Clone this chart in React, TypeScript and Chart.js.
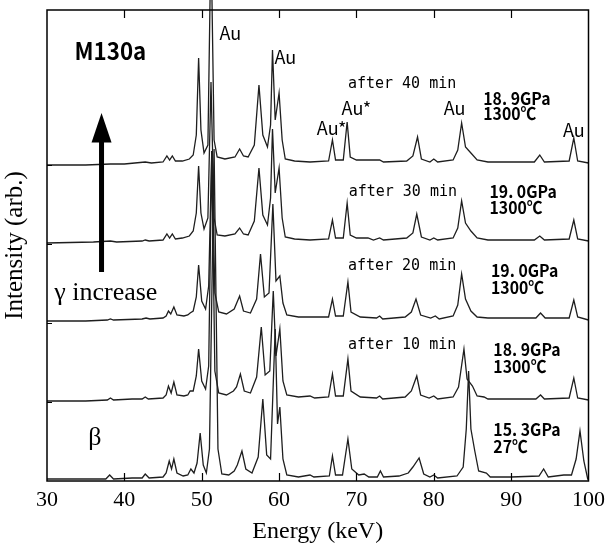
import React, { useEffect, useRef } from "react";
import { Chart, registerables } from "chart.js";

Chart.register(...registerables);

// ---- axes ----
const X_MIN = 30;
const X_MAX = 100;
const X_TICKS = [30, 40, 50, 60, 70, 80, 90, 100];
const Y_MIN = 0;
const Y_MAX = 471;
const Y_TICKS = [79, 158, 237, 316];

// baseline offset of each stacked trace (bottom -> top)
const OFFSETS = [2, 80, 160, 238, 316];

// ---- spectra: [energy keV, intensity above own baseline] ----
const T0: number[][] = [
  [30, 0], [34, 0], [37.6, 0], [38.1, 4], [38.6, 0], [41, 1], [42.3, 1], [42.7, 5], [43.2, 1],
  [45, 2], [45.4, 6], [45.8, 18], [46.1, 10], [46.4, 20], [46.8, 6], [47.6, 3], [48.2, 4],
  [48.6, 10], [49.0, 6], [49.4, 16], [49.8, 46], [50.2, 14], [50.6, 6], [51.0, 30], [51.6, 330],
  [52.1, 30], [52.6, 5], [53.5, 4], [54.2, 8], [54.6, 14], [55.2, 28], [55.7, 10], [56.5, 6],
  [57.3, 22], [57.9, 80], [58.4, 24], [58.9, 20], [59.5, 150], [59.8, 55], [60.1, 72], [60.5, 20],
  [61, 4], [62.5, 2], [64, 4], [64.5, 2], [66.5, 3], [66.9, 23], [67.3, 4], [68.2, 4], [68.9, 40],
  [69.4, 10], [70.3, 4], [71, 5], [71.6, 2], [72.7, 2], [73.1, 8], [73.5, 2], [75.5, 3], [76.7, 6],
  [77.3, 12], [78.1, 21], [78.7, 5], [79.5, 2], [80, 4], [80.5, 1], [83, 3], [83.8, 12], [84.2, 50],
  [84.5, 108], [84.8, 50], [85.3, 28], [85.8, 8], [86.8, 6], [87.3, 2], [90, 2], [93.6, 3],
  [94.2, 10], [94.8, 2], [96.8, 4], [97.8, 4], [98.4, 20], [98.9, 48], [99.4, 18], [99.9, 0], [100, 0],
];

const T10: number[][] = [
  [30, 0], [35, 0], [37.8, 1], [38.2, 3], [38.6, 1], [41, 2], [42.3, 2], [42.7, 4], [43.1, 2],
  [45, 3], [45.4, 6], [45.7, 15], [46.05, 8], [46.4, 19], [46.8, 6], [47.7, 5], [48.2, 6],
  [48.5, 10], [48.9, 10], [49.3, 25], [49.6, 52], [50.0, 20], [50.5, 12], [50.9, 35], [51.3, 250],
  [51.7, 30], [52.2, 8], [53.2, 6], [54.1, 10], [54.5, 14], [55.0, 27], [55.5, 10], [56.3, 8],
  [57.1, 24], [57.7, 74], [58.2, 26], [58.8, 30], [59.25, 110], [59.6, 45], [60.1, 72], [60.5, 20],
  [61, 6], [62.5, 4], [64, 5], [64.6, 3], [66.4, 4], [66.9, 27], [67.3, 5], [68.3, 5], [68.9, 42],
  [69.3, 10], [70.5, 4], [72.6, 3], [73, 5], [73.4, 2], [76.3, 4], [77.1, 10], [77.8, 25],
  [78.3, 6], [79.4, 3], [80, 5], [80.5, 2], [82.5, 4], [83.2, 14], [83.9, 52], [84.3, 22],
  [85, 15], [85.6, 5], [86.5, 4], [87, 2], [93.2, 2], [93.8, 6], [94.3, 2], [97.5, 3], [98.1, 23],
  [98.6, 3], [100, 1],
];

const T20: number[][] = [
  [30, 0], [35, 0], [37.8, 1], [38.2, 2], [38.6, 1], [42.3, 2], [42.8, 3], [43.3, 2], [45, 3],
  [45.4, 5], [45.7, 10], [46.0, 7], [46.4, 14], [46.8, 6], [47.7, 5], [48.2, 6], [48.5, 8],
  [48.9, 10], [49.3, 24], [49.6, 56], [50.0, 20], [50.5, 12], [50.9, 35], [51.3, 170], [51.7, 28],
  [52.2, 9], [53.2, 7], [54.2, 12], [54.9, 25], [55.4, 10], [56.3, 8], [57.1, 22], [57.6, 67],
  [58.1, 24], [58.7, 28], [59.2, 117], [59.6, 40], [60.1, 45], [60.5, 18], [61, 6], [62.5, 4],
  [64, 4], [66.4, 4], [66.9, 22], [67.3, 5], [68.3, 5], [68.9, 39], [69.3, 9], [70.5, 4],
  [72.6, 3], [73, 5], [73.4, 2], [76.3, 4], [77.1, 9], [77.7, 22], [78.3, 6], [79.6, 3],
  [80.2, 5], [80.7, 2], [82.5, 5], [83.1, 16], [83.6, 47], [84.1, 22], [84.8, 10], [85.6, 4],
  [87, 3], [93.2, 3], [93.8, 8], [94.4, 3], [97.5, 3], [98.1, 21], [98.6, 4], [100, 1],
];

const T30: number[][] = [
  [30, 0], [36, 1], [38.2, 2], [39, 1], [42.3, 2], [42.7, 3], [43.2, 2], [45, 3], [45.5, 9],
  [45.85, 5], [46.2, 9], [46.6, 4], [47.5, 5], [48.4, 7], [48.9, 12], [49.3, 30], [49.6, 77],
  [49.9, 30], [50.3, 14], [50.8, 25], [51.2, 161], [51.6, 25], [52, 8], [53, 7], [54.3, 9],
  [54.9, 15], [55.4, 9], [56, 8], [56.8, 22], [57.4, 75], [57.9, 28], [58.5, 18], [58.9, 45],
  [59.15, 114], [59.5, 50], [60.0, 75], [60.4, 25], [60.8, 6], [62, 4], [64, 3], [66.4, 4],
  [66.9, 23], [67.3, 5], [68.3, 5], [68.8, 40], [69.2, 8], [70, 5], [71.5, 5], [72.2, 3], [73, 5],
  [73.5, 3], [76.5, 5], [77.3, 10], [77.8, 29], [78.4, 6], [79.5, 3], [80, 5], [80.5, 3],
  [82.5, 5], [83.1, 15], [83.6, 42], [84.1, 20], [84.8, 12], [85.6, 5], [87, 3], [93, 3],
  [93.7, 7], [94.3, 3], [97.5, 4], [98.1, 23], [98.6, 4], [100, 2],
];

const T40: number[][] = [
  [30, 0], [35, 0], [38.2, 1], [40, 1], [42.7, 3], [43.5, 2], [45, 3], [45.5, 9], [45.85, 5],
  [46.2, 9], [46.6, 4], [47.5, 4], [48.4, 6], [48.9, 10], [49.3, 30], [49.6, 107], [49.9, 35],
  [50.3, 12], [50.8, 20], [51.2, 230], [51.6, 25], [52, 8], [53, 6], [54.3, 8], [54.9, 16],
  [55.4, 9], [56, 8], [56.8, 20], [57.4, 80], [57.9, 30], [58.5, 18], [58.9, 40], [59.15, 115],
  [59.5, 45], [60.0, 72], [60.4, 25], [60.8, 6], [62, 4], [64, 3], [66.4, 4], [66.9, 25],
  [67.3, 5], [68.3, 5], [68.8, 43], [69.2, 8], [70, 5], [73, 5], [73.5, 3], [76.5, 4], [77.3, 9],
  [77.9, 28], [78.4, 6], [79.5, 3], [80, 6], [80.5, 3], [82.5, 5], [83.1, 15], [83.6, 42],
  [84.1, 18], [84.8, 12], [85.6, 5], [87, 3], [93, 3], [93.7, 10], [94.3, 3], [97.5, 4],
  [98.1, 27], [98.6, 4], [100, 2],
];

const TRACES = [T0, T10, T20, T30, T40];

// ---- text annotations (data coordinates) ----
const JP = '"Noto Sans CJK JP", "Noto Sans", sans-serif';
const MONO = '"DejaVu Sans Mono", monospace';
const SERIF = '"Liberation Serif", "DejaVu Serif", serif';

type Label = { text: string; x: number; y: number; font: string; align: CanvasTextAlign; sx?: number };
const LABELS: Label[] = [
  { text: "M130a", x: 38.2, y: 430, font: `bold 24px ${JP}`, align: "center", sx: 0.93 },
  { text: "Au", x: 53.7, y: 448, font: `18px ${JP}`, align: "center" },
  { text: "Au", x: 60.8, y: 424, font: `18px ${JP}`, align: "center" },
  { text: "after 40 min", x: 75.9, y: 397, font: `15px ${MONO}`, align: "center" },
  { text: "Au*", x: 70.0, y: 373, font: `18px ${JP}`, align: "center" },
  { text: "Au*", x: 66.8, y: 353, font: `18px ${JP}`, align: "center" },
  { text: "Au", x: 82.7, y: 373, font: `18px ${JP}`, align: "center" },
  { text: "Au", x: 98.1, y: 351, font: `18px ${JP}`, align: "center" },
  { text: "18. 9GPa", x: 86.4, y: 382, font: `bold 17px ${JP}`, align: "left", sx: 0.93 },
  { text: "1300℃", x: 86.4, y: 367, font: `bold 17px ${JP}`, align: "left", sx: 0.93 },
  { text: "after 30 min", x: 76.0, y: 289, font: `15px ${MONO}`, align: "center" },
  { text: "19. 0GPa", x: 87.2, y: 289, font: `bold 17px ${JP}`, align: "left", sx: 0.93 },
  { text: "1300℃", x: 87.2, y: 273, font: `bold 17px ${JP}`, align: "left", sx: 0.93 },
  { text: "after 20 min", x: 75.9, y: 215, font: `15px ${MONO}`, align: "center" },
  { text: "19. 0GPa", x: 87.4, y: 210, font: `bold 17px ${JP}`, align: "left", sx: 0.93 },
  { text: "1300℃", x: 87.4, y: 193, font: `bold 17px ${JP}`, align: "left", sx: 0.93 },
  { text: "after 10 min", x: 75.9, y: 136, font: `15px ${MONO}`, align: "center" },
  { text: "18. 9GPa", x: 87.7, y: 131, font: `bold 17px ${JP}`, align: "left", sx: 0.93 },
  { text: "1300℃", x: 87.7, y: 114, font: `bold 17px ${JP}`, align: "left", sx: 0.93 },
  { text: "15. 3GPa", x: 87.7, y: 51, font: `bold 17px ${JP}`, align: "left", sx: 0.93 },
  { text: "27℃", x: 87.7, y: 34, font: `bold 17px ${JP}`, align: "left", sx: 0.93 },
  { text: "β", x: 36.2, y: 43, font: `26px ${SERIF}`, align: "center" },
  { text: "γ increase", x: 37.6, y: 188, font: `26px ${SERIF}`, align: "center" },
];

// arrow (data coordinates)
const ARROW = { x: 37.05, from: 209, headBase: 339, tip: 368 };

const overlay = {
  id: "overlay",
  afterDraw(chart: any) {
    const { ctx, chartArea: a, scales } = chart;
    const xs = scales.x;
    const ys = scales.y;
    ctx.save();
    ctx.strokeStyle = "#000";
    ctx.fillStyle = "#000";
    // frame
    ctx.lineWidth = 1.5;
    ctx.strokeRect(a.left, a.top, a.right - a.left, a.bottom - a.top);
    // inward ticks
    ctx.lineWidth = 1.2;
    ctx.beginPath();
    for (const v of X_TICKS) {
      if (v === X_MIN || v === X_MAX) continue;
      const px = Math.round(xs.getPixelForValue(v)) + 0.5;
      ctx.moveTo(px, a.top);
      ctx.lineTo(px, a.top + 8);
      ctx.moveTo(px, a.bottom);
      ctx.lineTo(px, a.bottom - 8);
    }
    for (const v of Y_TICKS) {
      const py = Math.round(ys.getPixelForValue(v)) + 0.5;
      ctx.moveTo(a.left, py);
      ctx.lineTo(a.left + 5, py);
    }
    ctx.stroke();
    // arrow
    const ax = xs.getPixelForValue(ARROW.x);
    const y0 = ys.getPixelForValue(ARROW.from);
    const yb = ys.getPixelForValue(ARROW.headBase);
    const yt = ys.getPixelForValue(ARROW.tip);
    ctx.fillRect(ax - 2.5, yb, 5, y0 - yb);
    ctx.beginPath();
    ctx.moveTo(ax - 10, yb + 0.5);
    ctx.lineTo(ax + 10, yb + 0.5);
    ctx.lineTo(ax, yt);
    ctx.closePath();
    ctx.fill();
    // labels
    ctx.textBaseline = "middle";
    for (const l of LABELS) {
      ctx.font = l.font;
      ctx.textAlign = l.align;
      const px = xs.getPixelForValue(l.x);
      const py = ys.getPixelForValue(l.y);
      ctx.save();
      ctx.translate(px, py);
      ctx.scale(l.sx ?? 1, 1);
      ctx.fillText(l.text, 0, 0);
      ctx.restore();
    }
    ctx.restore();
  },
};

export default function App() {
  const ref = useRef<HTMLCanvasElement | null>(null);
  useEffect(() => {
    const canvas = ref.current;
    if (!canvas) return;
    const chart = new Chart(canvas, {
      type: "line",
      data: {
        datasets: TRACES.map((t, i) => ({
          data: t.map(([e, v]) => ({ x: e, y: v + OFFSETS[i] })),
          borderColor: "#1e1e1e",
          borderWidth: 1.3,
          pointRadius: 0,
          tension: 0,
          fill: false,
          clip: false as any,
        })),
      },
      options: {
        animation: false,
        responsive: false,
        devicePixelRatio: 1,
        layout: { padding: { top: 10, right: 18, left: 0, bottom: 0 } },
        plugins: { legend: { display: false }, tooltip: { enabled: false } },
        scales: {
          x: {
            type: "linear",
            min: X_MIN,
            max: X_MAX,
            grid: { display: false, drawTicks: false },
            border: { display: false },
            afterBuildTicks: (s: any) => {
              s.ticks = X_TICKS.map((v) => ({ value: v }));
            },
            ticks: {
              font: { family: "Liberation Serif", size: 22 },
              color: "#000",
              padding: 6,
              maxRotation: 0,
              autoSkip: false,
            },
            title: {
              display: true,
              text: "Energy (keV)",
              font: { family: "Liberation Serif", size: 24 },
              color: "#000",
              padding: { top: 0, bottom: 0 },
            },
            afterFit: (s: any) => {
              s.height = 65;
            },
          },
          y: {
            type: "linear",
            min: Y_MIN,
            max: Y_MAX,
            grid: { display: false, drawTicks: false },
            border: { display: false },
            ticks: { display: false },
            title: {
              display: true,
              text: "Intensity (arb.)",
              font: { family: "Liberation Serif", size: 25 },
              color: "#000",
              padding: { top: 0, bottom: 0 },
            },
            afterFit: (s: any) => {
              s.width = 47;
            },
          },
        },
      },
      plugins: [overlay],
    } as any);
    return () => chart.destroy();
  }, []);
  return (
    <div style={{ position: "absolute", left: 0, top: 0, width: 611, height: 546, background: "#fff" }}>
      <canvas ref={ref} width={611} height={546} style={{ display: "block" }} />
    </div>
  );
}
